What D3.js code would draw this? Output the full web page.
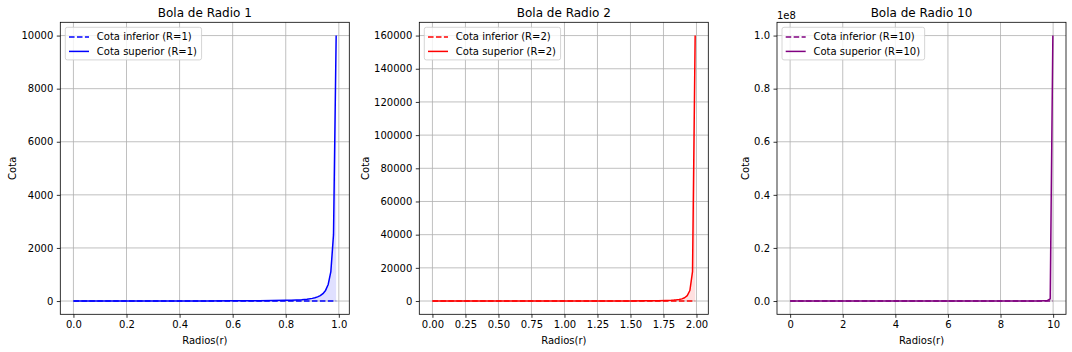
<!DOCTYPE html>
<html lang="es">
<head>
<meta charset="UTF-8">
<title>Bolas</title>
<script src="https://cdn.jsdelivr.net/npm/d3@7/dist/d3.min.js"></script>
<style>
  body { margin: 0; background: #fff; }
  text { font-family: "DejaVu Sans", sans-serif; fill: #000; }
</style>
</head>
<body>
<script>
// ---- datos ----
var radios1 = [0, 0.1, 0.2, 0.3, 0.4, 0.5, 0.6, 0.7, 0.75, 0.8, 0.82, 0.84, 0.86, 0.88, 0.9, 0.91, 0.92, 0.93, 0.94, 0.95, 0.96, 0.97, 0.98, 0.99];
var inferior1 = [1, 0.83, 0.69, 0.59, 0.51, 0.44, 0.39, 0.35, 0.33, 0.31, 0.3, 0.3, 0.29, 0.28, 0.28, 0.27, 0.27, 0.27, 0.27, 0.26, 0.26, 0.26, 0.25, 0.25];
var superior1 = [1, 1.2, 1.6, 2, 2.8, 4, 6.3, 11, 16, 25, 31, 39, 51, 69, 100, 123, 156, 204, 278, 400, 625, 1111, 2500, 10000];

var radios2 = [0, 0.201, 0.402, 0.603, 0.804, 1.005, 1.206, 1.407, 1.508, 1.608, 1.709, 1.769, 1.809, 1.829, 1.849, 1.869, 1.889, 1.91, 1.93, 1.95, 1.97, 1.99];
var inferior2 = [4, 3.3, 2.8, 2.4, 2.1, 1.8, 1.6, 1.4, 1.3, 1.25, 1.2, 1.15, 1.13, 1.12, 1.11, 1.1, 1.09, 1.08, 1.07, 1.06, 1.05, 1.0];
var superior2 = [4, 4.9, 6.3, 8.2, 11, 16, 25, 46, 66, 104, 188, 299, 439, 548, 704, 937, 1308, 1958, 3238, 6349, 17660, 160000];

var radios10 = [0, 1.009, 2.018, 3.027, 4.036, 5.045, 6.055, 7.064, 8.073, 8.577, 9.082, 9.384, 9.586, 9.687, 9.788, 9.889, 9.99];
var inferior10 = [100, 83, 69, 59, 51, 44, 39, 34, 31, 29, 28, 27, 26, 26, 26, 25, 25];
var superior10 = [100, 124, 157, 206, 281, 407, 643, 1160, 2693, 4941, 11861, 26397, 58450, 102270, 222900, 813000, 100000000];

var xTicks1 = [0, 0.2, 0.4, 0.6, 0.8, 1.0];
var yTicks1 = [0, 2000, 4000, 6000, 8000, 10000];
var xTicks2 = [0, 0.25, 0.5, 0.75, 1.0, 1.25, 1.5, 1.75, 2.0];
var yTicks2 = [0, 20000, 40000, 60000, 80000, 100000, 120000, 140000, 160000];
var xTicks10 = [0, 2, 4, 6, 8, 10];
var yTicks10 = [0, 0.2e8, 0.4e8, 0.6e8, 0.8e8, 1.0e8];

var width = 1072, height = 352;
var svg = d3.select("body").append("svg")
        .attr("width", width)
        .attr("height", height);

var panels = [
    {R: 1, left: 60.3, color: "blue", x: radios1, lo: inferior1, hi: superior1,
     xTicks: xTicks1, yTicks: yTicks1, xFmt: d3.format(".1f"), yFmt: d3.format("d")},
    {R: 2, left: 419.3, color: "red", x: radios2, lo: inferior2, hi: superior2,
     xTicks: xTicks2, yTicks: yTicks2, xFmt: d3.format(".2f"), yFmt: d3.format("d")},
    {R: 10, left: 777, color: "purple", x: radios10, lo: inferior10, hi: superior10,
     xTicks: xTicks10, yTicks: yTicks10, xFmt: d3.format("d"), yFmt: function (v) { return (v / 1e8).toFixed(1); },
     offset: "1e8"}
];

var axTop = 22.3, axW = 289, axH = 292;

panels.forEach(function (p, k) {
    var g = svg.append("g").attr("transform", "translate(" + p.left + "," + axTop + ")");

    // margenes del 5% como matplotlib
    var xmin = d3.min(p.x), xmax = d3.max(p.x);
    var ymin = Math.min(d3.min(p.lo), d3.min(p.hi)), ymax = d3.max(p.hi);
    var dx = (xmax - xmin) * 0.05, dy = (ymax - ymin) * 0.05;
    var x = d3.scaleLinear().domain([xmin - dx, xmax + dx]).range([0, axW]);
    var y = d3.scaleLinear().domain([ymin - dy, ymax + dy]).range([axH, 0]);

    var clipId = "clip" + k;
    g.append("clipPath").attr("id", clipId).append("rect")
        .attr("width", axW).attr("height", axH);

    var pts = p.x.map(function (v, i) { return {x: v, lo: p.lo[i], hi: p.hi[i]}; });

    // relleno entre cotas
    g.append("path").datum(pts)
        .attr("clip-path", "url(#" + clipId + ")")
        .attr("fill", p.color).attr("fill-opacity", 0.12)
        .attr("d", d3.area().x(function (d) { return x(d.x); })
            .y0(function (d) { return y(d.lo); })
            .y1(function (d) { return y(d.hi); }));

    // rejilla
    g.selectAll(".gx").data(p.xTicks).enter().append("line")
        .attr("x1", function (d) { return x(d); }).attr("x2", function (d) { return x(d); })
        .attr("y1", 0).attr("y2", axH)
        .style("stroke", "#b0b0b0").style("stroke-width", 0.8);
    g.selectAll(".gy").data(p.yTicks).enter().append("line")
        .attr("y1", function (d) { return y(d); }).attr("y2", function (d) { return y(d); })
        .attr("x1", 0).attr("x2", axW)
        .style("stroke", "#b0b0b0").style("stroke-width", 0.8);

    // lineas
    var lineLo = d3.line().x(function (d) { return x(d.x); }).y(function (d) { return y(d.lo); });
    var lineHi = d3.line().x(function (d) { return x(d.x); }).y(function (d) { return y(d.hi); });
    g.append("path").datum(pts)
        .attr("clip-path", "url(#" + clipId + ")")
        .attr("fill", "none").attr("stroke", p.color).attr("stroke-width", 1.5)
        .attr("stroke-dasharray", "5.55,2.4")
        .attr("d", lineLo);
    g.append("path").datum(pts)
        .attr("clip-path", "url(#" + clipId + ")")
        .attr("fill", "none").attr("stroke", p.color).attr("stroke-width", 1.5)
        .attr("stroke-linejoin", "round")
        .attr("d", lineHi);

    // ejes
    var xAxis = g.append("g").attr("transform", "translate(0," + axH + ")")
        .call(d3.axisBottom(x).tickValues(p.xTicks).tickFormat(p.xFmt).tickSize(3.5).tickPadding(3.5));
    var yAxis = g.append("g")
        .call(d3.axisLeft(y).tickValues(p.yTicks).tickFormat(p.yFmt).tickSize(3.5).tickPadding(3.5));
    [xAxis, yAxis].forEach(function (a) {
        a.select(".domain").remove();
        a.selectAll("line").attr("stroke", "#000").attr("stroke-width", 0.8);
        a.selectAll("text").style("font-size", "10px").attr("fill", "#000")
            .style("font-family", "'DejaVu Sans', sans-serif");
    });

    // marco
    g.append("rect").attr("width", axW).attr("height", axH)
        .attr("fill", "none").attr("stroke", "#000").attr("stroke-width", 0.8);

    // titulo
    g.append("text").attr("x", axW / 2).attr("y", -5)
        .attr("text-anchor", "middle").style("font-size", "12px")
        .text("Bola de Radio " + p.R);

    if (p.offset) {
        g.append("text").attr("x", 0).attr("y", -3)
            .style("font-size", "10px").text(p.offset);
    }

    // etiquetas de ejes
    g.append("text").attr("x", axW / 2).attr("y", axH + 30)
        .attr("text-anchor", "middle").style("font-size", "10px")
        .text("Radios(r)");
    var tw = 0;
    yAxis.selectAll("text").each(function () { tw = Math.max(tw, this.getBBox().width); });
    g.append("text")
        .attr("transform", "translate(" + (-7 - tw - 5.5) + "," + (axH / 2) + ") rotate(-90)")
        .attr("text-anchor", "middle").style("font-size", "10px")
        .text("Cota");

    // leyenda
    var leg = g.append("g").attr("transform", "translate(5,5)");
    var box = leg.append("rect").attr("rx", 2).attr("ry", 2)
        .attr("fill", "#fff").attr("fill-opacity", 0.8)
        .attr("stroke", "#cccccc").attr("stroke-width", 0.8);
    var labels = ["Cota inferior (R=" + p.R + ")", "Cota superior (R=" + p.R + ")"];
    var maxw = 0;
    labels.forEach(function (lab, i) {
        var cy = 9.7 + i * 14.4;
        leg.append("line").attr("x1", 3.7).attr("x2", 23.7).attr("y1", cy).attr("y2", cy)
            .attr("stroke", p.color).attr("stroke-width", 1.5)
            .attr("stroke-dasharray", i === 0 ? "5.55,2.4" : null);
        var t = leg.append("text").attr("x", 31.5).attr("y", cy).attr("dy", "0.35em")
            .style("font-size", "10px").text(lab);
        maxw = Math.max(maxw, t.node().getBBox().width);
    });
    box.attr("width", 31.5 + maxw + 4.5).attr("height", 32.6);
});
</script>
</body>
</html>
